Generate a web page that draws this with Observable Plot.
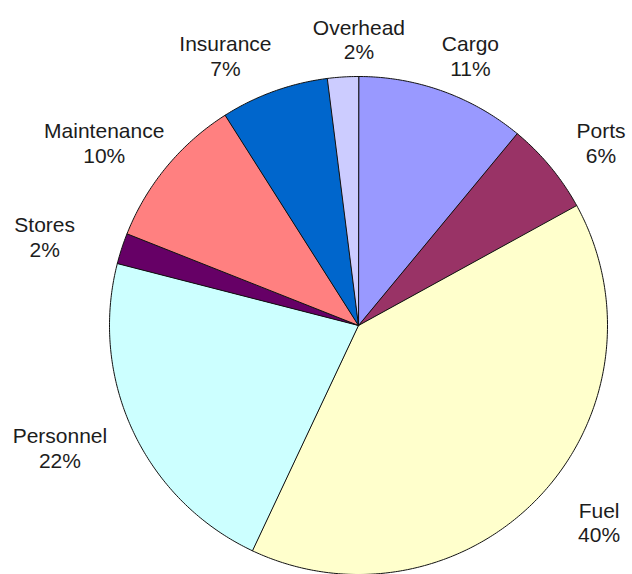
<!DOCTYPE html>
<html><head><meta charset="utf-8">
<script src="https://cdn.jsdelivr.net/npm/d3@7"></script>
<script src="https://cdn.jsdelivr.net/npm/@observablehq/plot@0.6"></script>
<style>html,body{margin:0;padding:0;background:#fff;}</style>
</head><body><div id="chart"></div>
<script>
// Data
const categories = ["Cargo", "Ports", "Fuel", "Personnel", "Stores", "Maintenance", "Insurance", "Overhead"];
const shares = [11, 6, 40, 22, 2, 10, 7, 2];
const colors = ["#9999FF", "#993366", "#FFFFCC", "#CCFFFF", "#660066", "#FF8080", "#0066CC", "#CCCCFF"];

// Layout
const W = 632, H = 574, cx = 358, cy = 325, R = 249;
const labelA = 330, labelB = 287, fontSize = 21, charW = 11, boxH = 50, gapX = 40;

const arcs = d3.pie().sort(null).value(d => d.value)(
  categories.map((name, i) => ({name, value: shares[i], color: colors[i]}))
);

function slicePoints(p) {
  const pts = [{x: 0, y: 0}];
  const n = Math.max(4, Math.ceil((p.endAngle - p.startAngle) / 0.01));
  for (let k = 0; k <= n; k++) {
    const a = p.startAngle + (p.endAngle - p.startAngle) * k / n;
    pts.push({x: R * Math.sin(a), y: R * Math.cos(a)});
  }
  return pts;
}

// Initial label positions on an ellipse around the pie
const labels = arcs.map(p => {
  const m = (p.startAngle + p.endAngle) / 2;
  return {
    x: labelA * Math.sin(m), y: labelB * Math.cos(m),
    w: p.data.name.length * charW,
    text: `${p.data.name}\n${p.data.value}%`
  };
});
// Simple horizontal collision avoidance between labels sharing a row
for (let it = 0; it < 60; it++) {
  for (let i = 0; i < labels.length; i++) for (let j = i + 1; j < labels.length; j++) {
    const a = labels[i], b = labels[j];
    if (Math.abs(a.y - b.y) >= boxH) continue;
    const need = (a.w + b.w) / 2 + gapX - Math.abs(a.x - b.x);
    if (need > 0) {
      const s = a.x < b.x ? -1 : 1;
      a.x += s * need / 2; b.x -= s * need / 2;
    }
  }
}
labels.forEach(l => {
  const half = l.w / 2 + 4;
  l.x = Math.max(-cx + half, Math.min(W - cx - half, l.x));
});

const marks = arcs.map(p => Plot.line(slicePoints(p), {
  x: "x", y: "y", curve: "linear-closed",
  fill: p.data.color, stroke: "#111", strokeWidth: 1, strokeLinejoin: "round"
}));
marks.push(Plot.text(labels, {
  x: "x", y: "y", text: "text", fontSize, lineHeight: 1.18,
  fill: "#1c1c1c", fontFamily: "Arial, 'Liberation Sans', sans-serif"
}));

const chart = Plot.plot({
  width: W, height: H, margin: 0,
  x: {domain: [-cx, W - cx], axis: null},
  y: {domain: [cy - H, cy], axis: null},
  style: {fontFamily: "Arial, 'Liberation Sans', sans-serif", background: "#fff"},
  marks
});
document.getElementById("chart").append(chart);
</script>
</body></html>
